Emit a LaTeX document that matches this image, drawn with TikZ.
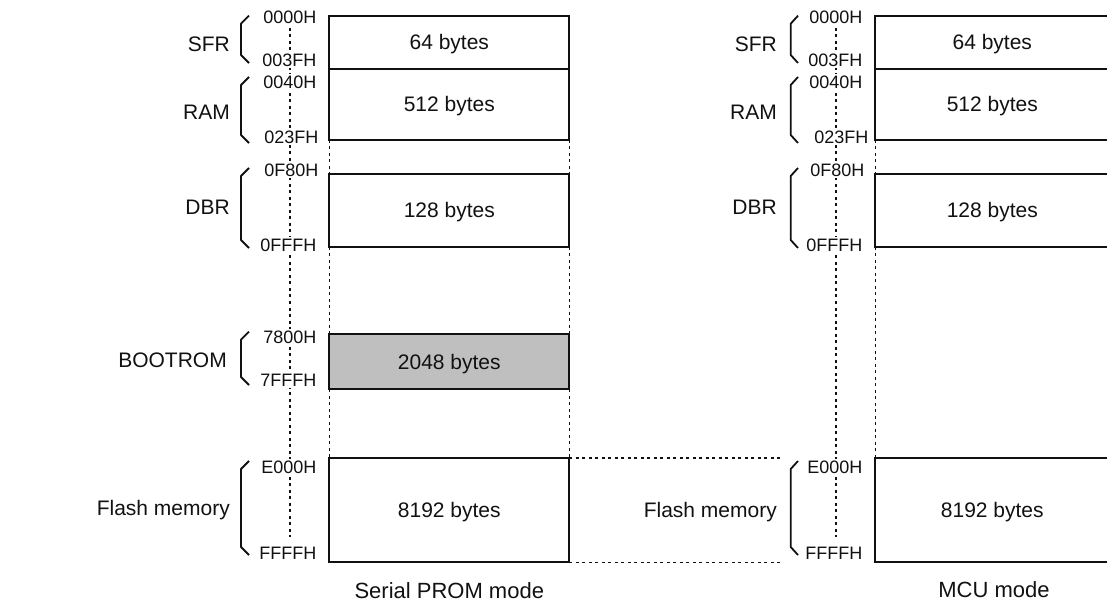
\documentclass[tikz,border=0pt]{standalone}
\usepackage{fontspec}
\setmainfont{Liberation Sans}
\usetikzlibrary{positioning}
\definecolor{ink}{HTML}{111111}
\definecolor{romfill}{HTML}{BFBFBF}

\begin{document}
\begin{tikzpicture}[x=1pt,y=-1pt,text=ink,
    font=\fontsize{21}{24}\selectfont,
    membox/.style={draw=ink,line width=2pt,fill=white,minimum width=240pt,
      inner sep=0pt,outer sep=0pt,text height=15pt,text depth=0pt,
      anchor=north west},
    addr/.style={anchor=east,fill=white,inner sep=1.5pt,text height=13pt,
      text depth=0pt,font=\fontsize{18}{20}\selectfont},
    region/.style={anchor=east,inner sep=0pt,text height=15pt,text depth=0pt},
    guide/.style={draw=ink,line width=1.6pt,dash pattern=on 3pt off 3.5pt},
    brace/.style={draw=ink,line width=1.8pt,line join=round},
    mode/.style={inner sep=0pt,font=\fontsize{22}{26}\selectfont}]
  \useasboundingbox (0,0) rectangle (1107,601);
  % address guides (behind the address labels)
  \coordinate (gA1) at (290,28);
  \coordinate (gA2) at (290,537);
  \coordinate (gB1) at (836,28);
  \coordinate (gB2) at (836,537);
  \draw[guide] (gA1) -- (gA2);
  \draw[guide] (gB1) -- (gB2);

  % Serial PROM mode
  \node[membox,minimum height=53.3pt] (sfrA) at (329.3,15.7) {64 bytes};
  \node[membox,minimum height=71pt] (ramA) at (sfrA.south west) {512 bytes};
  \node[membox,minimum height=72.7pt] (dbrA) at (329.3,174) {128 bytes};
  \node[membox,fill=romfill,minimum height=55pt] (bootA) at (329.3,334.3)
    {2048 bytes};
  \node[membox,minimum height=104.6pt] (flashA) at (329.3,457.7) {8192 bytes};
  \draw[guide] (ramA.south west) -- (dbrA.north west)
    (dbrA.south west) -- (bootA.north west)
    (bootA.south west) -- (flashA.north west);
  \draw[guide] (ramA.south east) -- (dbrA.north east)
    (dbrA.south east) -- (bootA.north east)
    (bootA.south east) -- (flashA.north east);
  \coordinate (fTop) at (783,457.7);
  \coordinate (fBot) at (783,562.3);
  \draw[guide] (flashA.north east) -- (fTop) (flashA.south east) -- (fBot);

  \node[addr] (adrA1) at (318,17) {0000H};
  \node[addr] (adrA2) at (318,60) {003FH};
  \node[addr] (adrA3) at (318,82) {0040H};
  \node[addr] (adrA4) at (320,137) {023FH};
  \node[addr] (adrA5) at (320,170) {0F80H};
  \node[addr] (adrA6) at (318,245) {0FFFH};
  \node[addr] (adrA7) at (318,336.7) {7800H};
  \node[addr] (adrA8) at (318,380) {7FFFH};
  \node[addr] (adrA9) at (318,466.7) {E000H};
  \node[addr] (adrA10) at (318,553) {FFFFH};

  \draw[brace] (249,15.7) -- (241,23.7) -- (241,55) -- (249,63);
  \draw[brace] (249,77) -- (241,85) -- (241,135) -- (249,143);
  \draw[brace] (249,168) -- (241,176) -- (241,240) -- (249,248);
  \draw[brace] (249,331.7) -- (241,339.7) -- (241,377) -- (249,385);
  \draw[brace] (249,461) -- (241,469) -- (241,547) -- (249,555);

  \node[region] (sfrLblA) at (230,44) {SFR};
  \node[region] (ramLblA) at (230,112) {RAM};
  \node[region] (dbrLblA) at (230,207) {DBR};
  \node[region] (bootLblA) at (227,360) {BOOTROM};
  \node[region] (flashLblA) at (230,508) {Flash memory};
  \node[mode] (modeA) at (449.3,590.5) {Serial PROM mode};

  % MCU mode
  \node[membox,minimum width=234pt,minimum height=53.3pt] (sfrB)
    at (875.3,15.7) {64 bytes};
  \node[membox,minimum width=234pt,minimum height=71pt] (ramB)
    at (sfrB.south west) {512 bytes};
  \node[membox,minimum width=234pt,minimum height=72.7pt] (dbrB)
    at (875.3,174) {128 bytes};
  \node[membox,minimum width=234pt,minimum height=104.6pt] (flashB)
    at (875.3,457.7) {8192 bytes};
  \draw[guide] (ramB.south west) -- (dbrB.north west)
    (dbrB.south west) -- (flashB.north west);

  \node[addr] (adrB1) at (864,17) {0000H};
  \node[addr] (adrB2) at (864,60) {003FH};
  \node[addr] (adrB3) at (864,82) {0040H};
  \node[addr] (adrB4) at (870,137) {023FH};
  \node[addr] (adrB5) at (866,170) {0F80H};
  \node[addr] (adrB6) at (864,245) {0FFFH};
  \node[addr] (adrB7) at (864,466.7) {E000H};
  \node[addr] (adrB8) at (864,553) {FFFFH};

  \draw[brace] (798,15.7) -- (790.7,23.7) -- (790.7,55) -- (798,63);
  \draw[brace] (798,77) -- (790.7,85) -- (790.7,135) -- (798,143);
  \draw[brace] (798,168) -- (790.7,176) -- (790.7,240) -- (798,248);
  \draw[brace] (798,461) -- (790.7,469) -- (790.7,547) -- (798,555);

  \node[region] (sfrLblB) at (777,44) {SFR};
  \node[region] (ramLblB) at (777,112) {RAM};
  \node[region] (dbrLblB) at (777,207) {DBR};
  \node[region] (flashLblB) at (777,510) {Flash memory};
  \node[mode] (modeB) at (994,590) {MCU mode};
\end{tikzpicture}
\end{document}
